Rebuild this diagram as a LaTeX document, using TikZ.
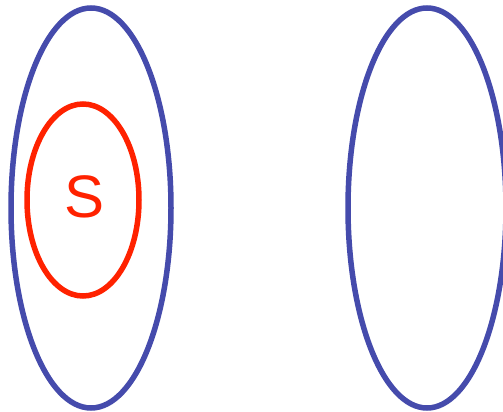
\documentclass[tikz,border=0pt]{standalone}
\usepackage{fontspec}
\setmainfont{Liberation Sans}
\definecolor{setblue}{RGB}{69,75,172}
\definecolor{setred}{RGB}{255,34,0}
\begin{document}
\begin{tikzpicture}[x=1pt,y=-1pt,
  bluering/.style={draw=setblue,line width=5.5pt},
  redring/.style={draw=setred,line width=5.5pt}]
\clip (0,0) rectangle (503,412);
\fill[white] (0,0) rectangle (503,412);
\draw[bluering] (91,208) ellipse [x radius=80, y radius=200];
\draw[bluering] (427,208) ellipse [x radius=79, y radius=200];
\draw[redring] (83,200) ellipse [x radius=56, y radius=96];
\node[text=setred,font=\fontsize{60}{60}\selectfont,inner sep=0pt] (s) at (85,197) {S};
\end{tikzpicture}
\end{document}
